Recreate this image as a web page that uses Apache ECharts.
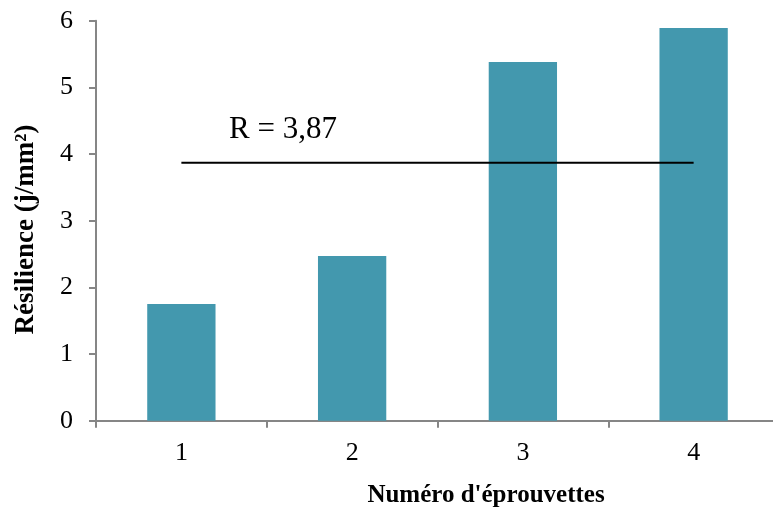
<!DOCTYPE html>
<html>
<head>
<meta charset="utf-8">
<script src="https://cdn.jsdelivr.net/npm/echarts@6/dist/echarts.min.js"></script>
<style>html,body{margin:0;padding:0;background:#fff}#c{width:773px;height:507px}</style>
</head>
<body>
<div id="c"></div>
<script>
var categories = ['1', '2', '3', '4'];
var resilience = [1.75, 2.47, 5.38, 5.89];
var meanValue = 3.87;
var meanLine = [meanValue, meanValue, meanValue, meanValue];
var yTicks = [0, 1, 2, 3, 4, 5, 6];

var chart = echarts.init(document.getElementById('c'), null, {renderer: 'canvas'});
var axisColor = '#868686';
var serif = '"Liberation Serif", "Times New Roman", serif';
chart.setOption({
  animation: false,
  grid: {left: 96, top: 20.7, width: 683, height: 400, outerBoundsMode: 'none', containLabel: false},
  xAxis: {
    type: 'category',
    data: categories,
    axisLine: {lineStyle: {color: axisColor, width: 2}},
    axisTick: {show: true, length: 7, lineStyle: {color: axisColor, width: 2}},
    axisLabel: {color: '#000', fontFamily: serif, fontSize: 26, margin: 19}
  },
  yAxis: {
    type: 'value',
    min: yTicks[0], max: yTicks[yTicks.length - 1], interval: 1,
    splitLine: {show: false},
    axisLine: {show: true, lineStyle: {color: axisColor, width: 2}},
    axisTick: {show: true, length: 7, lineStyle: {color: axisColor, width: 2}},
    axisLabel: {color: '#000', fontFamily: serif, fontSize: 26, margin: 23}
  },
  graphic: [{
    type: 'text', x: 486, y: 496,
    style: {text: "Numéro d'éprouvettes", fill: '#000', font: 'bold 25px ' + serif, align: 'center', verticalAlign: 'middle'}
  }, {
    type: 'text', x: 26, y: 229.5, rotation: Math.PI / 2,
    style: {text: 'Résilience (j/mm²)', fill: '#000', font: 'bold 27px ' + serif, align: 'center', verticalAlign: 'middle'}
  }, {
    type: 'text', left: 229, top: 114,
    style: {text: 'R = 3,87', fill: '#000', font: '31px ' + serif}
  }],
  series: [{
    type: 'bar',
    data: resilience,
    barWidth: '40%',
    itemStyle: {color: '#4398ae'}
  }, {
    type: 'line',
    data: meanLine,
    symbol: 'none',
    lineStyle: {color: '#000', width: 2},
    z: 5
  }]
});
</script>
</body>
</html>
